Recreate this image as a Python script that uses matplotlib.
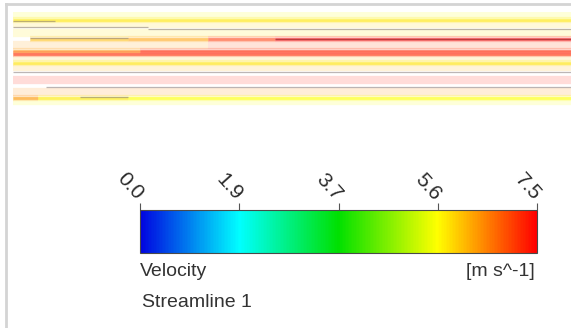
import numpy as np
import matplotlib.pyplot as plt
from matplotlib.colors import LinearSegmentedColormap, Normalize
from matplotlib.cm import ScalarMappable
from matplotlib.lines import Line2D

plt.rcParams['font.family'] = ['Liberation Sans', 'DejaVu Sans']

# velocity range of the legend
vmin, vmax = 0.0, 7.5
tick_values = [0.0, 1.875, 3.75, 5.625, 7.5]
tick_labels = ['0.0', '1.9', '3.7', '5.6', '7.5']

# streamlines: position across channel, start/end along channel (0..1), velocity
band_y  = [15, 24, 33, 45, 45, 58, 67, 80, 92, 101]
band_x0 = [0.0, 0.0, 0.0, 0.0, 0.35, 0.0, 0.0, 0.0, 0.0, 0.0]
band_x1 = [1.0, 1.0, 1.0, 0.35, 1.0, 1.0, 1.0, 1.0, 1.0, 1.0]
band_v  = [5.6, 5.9, 5.8, 6.3, 7.0, 6.0, 6.2, 7.3, 6.5, 5.6]

core_y  = [20, 39, 39, 39, 39, 51, 51, 54, 63, 98, 98, 98]
core_x0 = [0.0, 0.03, 0.206, 0.35, 0.47, 0.0, 0.228, 0.0, 0.0, 0.0, 0.045, 0.206]
core_x1 = [1.0, 0.206, 0.35, 0.47, 1.0, 0.228, 1.0, 1.0, 1.0, 0.045, 0.206, 1.0]
core_v  = [5.8, 6.1, 6.3, 7.1, 7.5, 6.4, 7.2, 7.3, 5.8, 6.5, 5.8, 5.6]

edge_y  = [21, 27, 29, 38, 72, 87, 97]
edge_x0 = [0.0, 0.0, 0.242, 0.03, 0.0, 0.06, 0.12]
edge_x1 = [0.075, 0.242, 1.0, 0.206, 1.0, 1.0, 0.206]

cmap = LinearSegmentedColormap.from_list(
    'cfx', [(0.0, '#0004e0'), (0.25, '#00ffff'), (0.5, '#00e000'),
            (0.75, '#ffff00'), (1.0, '#ff0000')])
norm = Normalize(vmin, vmax)

fig = plt.figure(figsize=(5.71, 3.28), dpi=100)
W, H = 571, 328

# streamline view
ax = fig.add_axes([13 / W, 1 - 107 / H, 558 / W, 95 / H])
ax.set_xlim(0, 1)
ax.set_ylim(107, 12)
ax.axis('off')

for y, x0, x1, v in zip(band_y, band_x0, band_x1, band_v):
    ax.plot([x0, x1], [y, y], color=cmap(norm(v)), lw=6, alpha=0.15,
            solid_capstyle='butt')
for y, x0, x1, v in zip(core_y, core_x0, core_x1, core_v):
    ax.plot([x0, x1], [y, y], color=cmap(norm(v)), lw=4.5, alpha=0.2,
            solid_capstyle='butt')
    ax.plot([x0, x1], [y, y], color=cmap(norm(v)), lw=2.0, alpha=0.45,
            solid_capstyle='butt')
    if v >= 7.4:
        ax.plot([x0, x1], [y, y], color='#a02828', lw=1.0, alpha=0.7,
                solid_capstyle='butt')
for y, x0, x1 in zip(edge_y, edge_x0, edge_x1):
    ax.plot([x0, x1], [y, y], color='#857a7a', lw=0.9, alpha=0.55,
            solid_capstyle='butt')

# legend bar
cax = fig.add_axes([140 / W, 1 - 253 / H, 397 / W, 43 / H])
cb = fig.colorbar(ScalarMappable(norm=norm, cmap=cmap), cax=cax,
                  orientation='horizontal')
cb.outline.set_edgecolor('#4a4a4a')
cb.outline.set_linewidth(0.8)
cax.xaxis.set_ticks_position('top')
cb.set_ticks(tick_values, labels=tick_labels)
cax.tick_params(axis='x', direction='out', length=5, width=0.8,
                color='#555555', pad=4, labelsize=15, labelcolor='#2a2a2a')
plt.setp(cax.get_xticklabels(), rotation=-48, ha='right', va='center',
         rotation_mode='anchor')

fig.text(140 / W, 1 - 276 / H, 'Velocity', fontsize=14, color='#333333',
         va='baseline', ha='left')
fig.text(142 / W, 1 - 307 / H, 'Streamline 1', fontsize=14,
         color='#333333', va='baseline', ha='left')
fig.text(535 / W, 1 - 276 / H, '[m s^-1]', fontsize=14, color='#333333',
         va='baseline', ha='right')

# image frame
fig.add_artist(Line2D([6 / W, 6 / W], [0, 1 - 4 / H], color='#d4d4d4', lw=2))
fig.add_artist(Line2D([6 / W, 1], [1 - 4 / H, 1 - 4 / H], color='#d4d4d4', lw=2))

fig.savefig('out.png', dpi=100)
